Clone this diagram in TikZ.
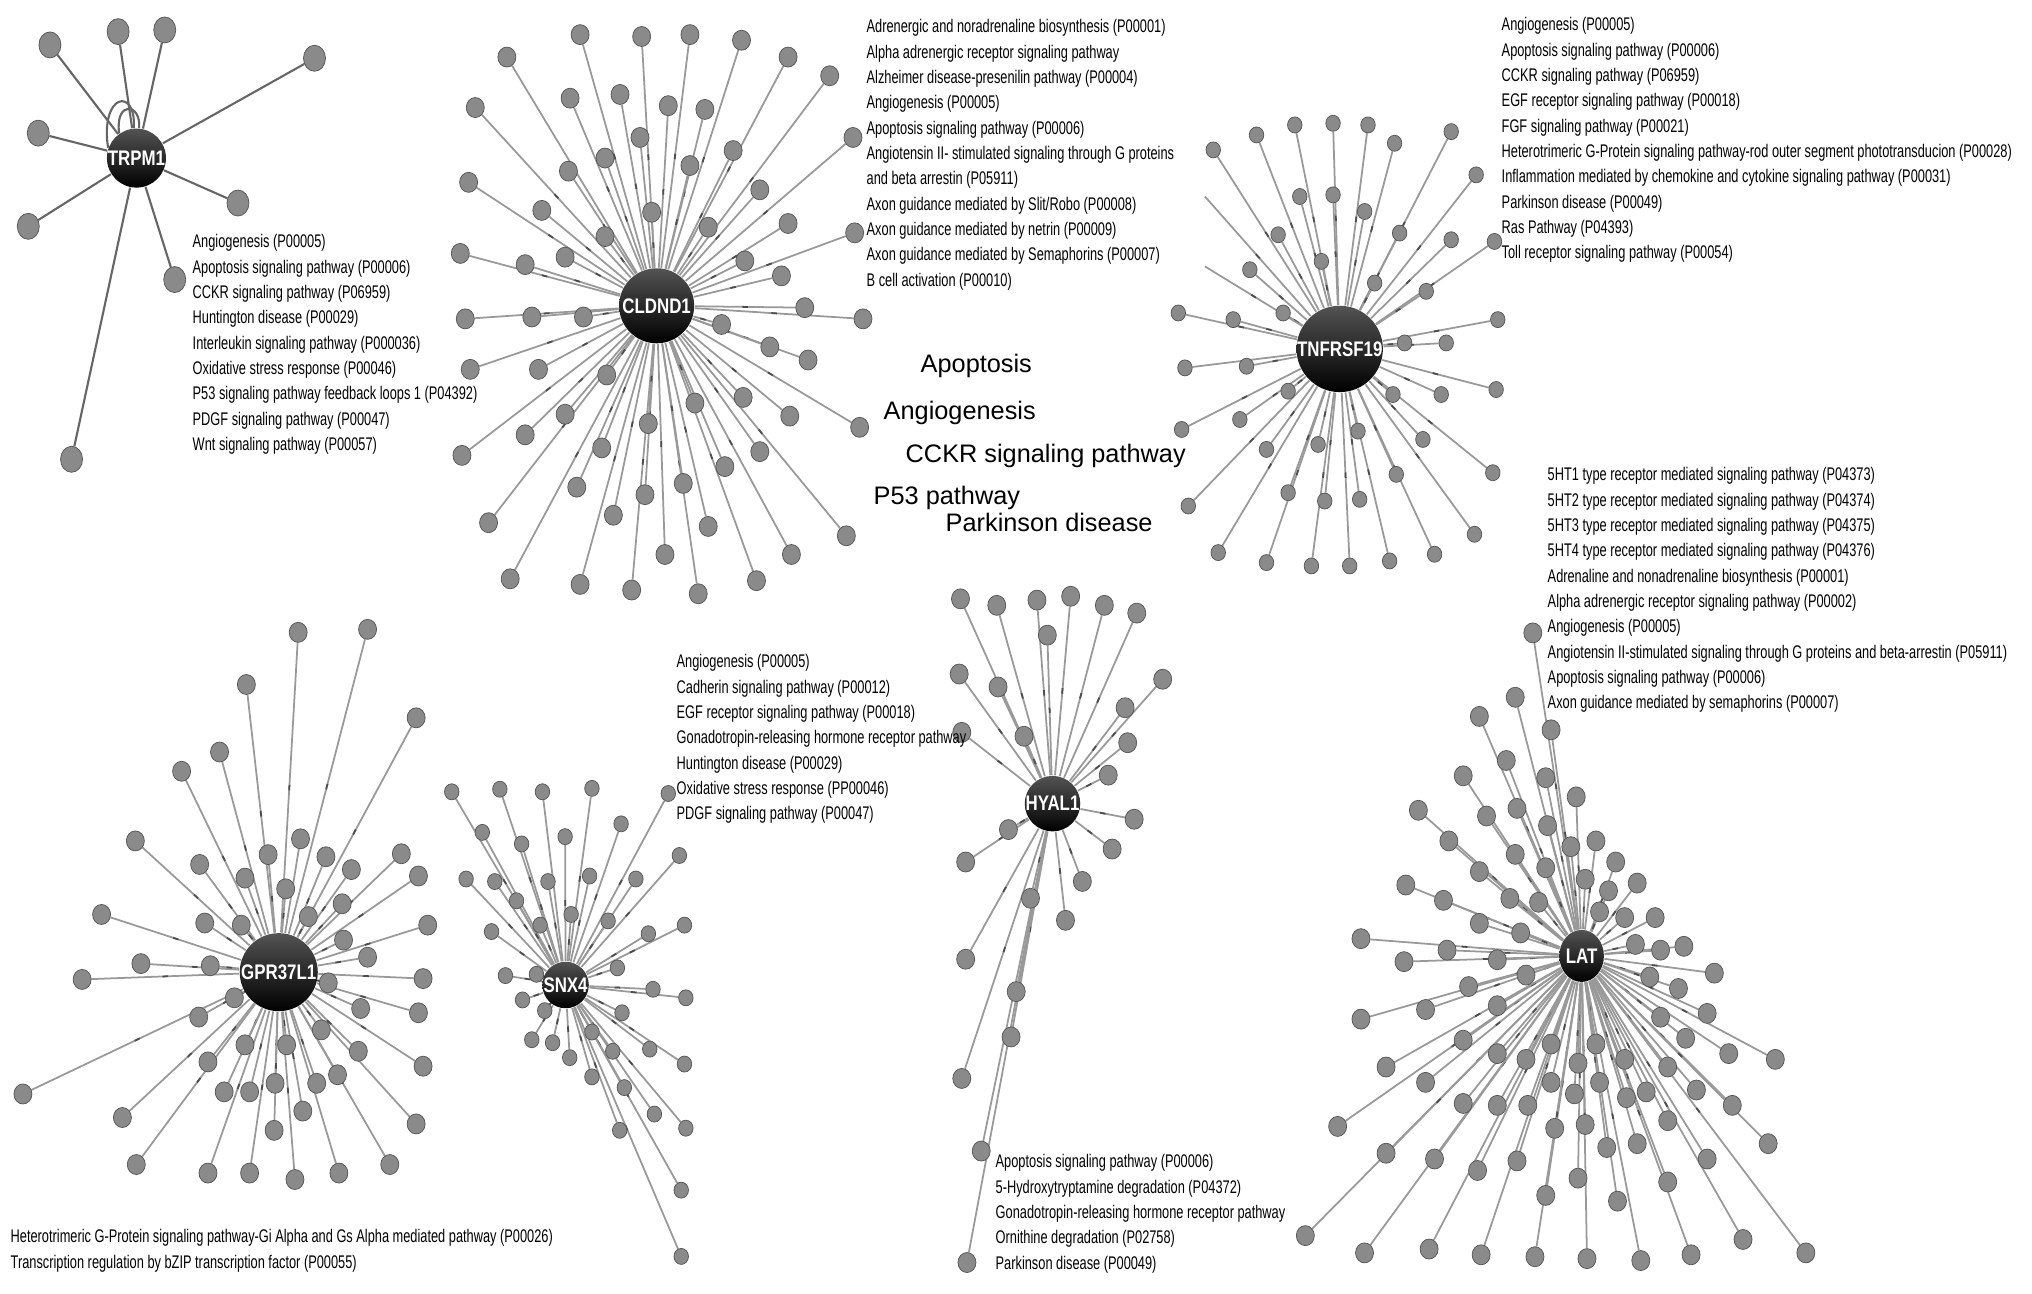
\documentclass[tikz,border=0pt]{standalone}
\usepackage{fontspec}
\setmainfont{Liberation Sans}
\newfontfamily\narrowfont[FakeStretch=0.70]{Liberation Sans}
\newfontfamily\hubfont[FakeStretch=0.80]{Liberation Sans}
\usetikzlibrary{shapes.geometric,decorations.markings}
\pgfdeclarelayer{back}
\pgfdeclarelayer{bg}
\pgfsetlayers{back,bg,main}
\tikzset{
  hub/.style={circle, inner sep=0pt, top color=gray!65!black, bottom color=black, draw=none,
    text=white, font=\hubfont\bfseries\fontsize{6}{7}\selectfont},
  leafbase/.style={ellipse, fill=gray!92, draw=gray!65!black, line width=0.2pt, inner sep=0pt},
  leafbig/.style={leafbase, minimum width=0.22cm, minimum height=0.26cm},
  leafmid/.style={leafbase, minimum width=0.18cm, minimum height=0.20cm},
  leafsmall/.style={leafbase, minimum width=0.145cm, minimum height=0.16cm},
  edge/.style={draw=gray!80, line width=0.5pt, postaction={decorate, decoration={markings,
      mark=at position 0.5 with {\draw[gray!60!black, line width=0.5pt] (-0.8pt,0) -- (0.8pt,0);}}}},
  edgedark/.style={draw=gray!80!black, line width=0.6pt},
  pathtext/.style={anchor=north west, inner sep=0pt, align=left, font=\narrowfont\fontsize{5.2}{7.2}\selectfont},
  biglabel/.style={anchor=base west, inner sep=0pt, font=\fontsize{7.2}{8.6}\selectfont}
}
\newcommand\drawnet[5]{%
  \foreach \xx/\yy [count=\ii] in {#5} {
    \node[#3] (#2\ii) at (\xx,\yy) {};
  }
  \begin{pgfonlayer}{bg}
  \foreach \xx/\yy [count=\ii] in {#5} {
    \draw[#4] (#1) -- (#2\ii);
  }
  \end{pgfonlayer}}
\begin{document}
\begin{tikzpicture}[x=0.01cm,y=-0.01cm]
\useasboundingbox (0,0) rectangle (2032,1293);
\begin{pgfonlayer}{back}
  \fill[white] (0,0) rectangle (2032,1293);
\end{pgfonlayer}

% ---------------- TRPM1 ----------------
\begin{scope}[x=0.003333cm,y=-0.003333cm]
  \node[hub, minimum size=0.59cm] (trpm) at (410,475) {TRPM1};
  \drawnet{trpm}{t}{leafbig}{edgedark}{150/135, 355/95, 495/90, 945/175, 115/400, 85/680, 715/610, 525/840, 215/1380}
  \begin{pgfonlayer}{bg}
    \draw[edgedark] (trpm.95) .. controls (410,260) and (300,280) .. (trpm.160);
    \draw[edgedark] (trpm.85) .. controls (425,310) and (345,300) .. (trpm.125);
  \end{pgfonlayer}
\end{scope}

% ---------------- CLDND1 ----------------
\begin{scope}[shift={(432,29)},x=0.003333cm,y=-0.003733cm]
  \node[hub, minimum size=0.75cm] (cldn) at (675,740) {CLDND1};
  \drawnet{cldn}{c}{leafmid}{edge}{445/15, 630/20, 775/15, 930/30, 1070/75, 1195/125, 1265/290, 1270/545, 1295/775, 1285/1065, 1245/1355, 1080/1405, 975/1475, 800/1510, 600/1500, 445/1485, 235/1470, 170/1320, 90/1140, 115/910, 100/775, 85/600, 110/410, 130/210, 225/75,
  415/185, 565/175, 710/205, 820/215, 905/325, 985/430, 1070/520, 1050/660, 1120/745, 1130/885, 1075/1035, 1015/850, 935/985, 985/1130, 880/1170, 830/1330, 700/1405, 755/1215, 640/1245, 545/1300, 435/1225, 510/1120, 400/1030, 280/1085, 320/910, 300/770, 280/630, 330/485, 410/380, 520/345, 625/290, 775/365, 660/490, 830/530, 940/620, 870/790, 790/1000, 650/1055, 525/925, 455/770, 400/610, 520/555}
\end{scope}

% ---------------- TNFRSF19 ----------------
\begin{scope}[shift={(1160,90)},x=0.003333cm,y=-0.003333cm]
  \node[hub, minimum size=0.78cm] (tnf) at (540,778) {TNFRSF19};
  \drawnet{tnf}{n}{leafsmall}{edge}{405/105, 520/100, 625/105, 705/160, 875/125, 950/255, 1005/455, 1015/690, 1010/900, 1000/1150, 945/1335, 825/1395, 690/1415, 570/1430, 455/1430, 320/1420, 175/1390, 85/1250, 65/1020, 75/835, 55/670, 160/180, 290/135,
  420/320, 520/315, 615/365, 720/430, 875/450, 800/605, 645/580, 485/515, 355/435, 270/540, 370/670, 220/690, 260/830, 385/905, 240/990, 320/1080, 385/1210, 495/1235, 475/1065, 600/1230, 595/1025, 710/1155, 790/1050, 845/915, 700/915, 735/760, 860/760}
  \coordinate (nd1) at (135,320);
  \coordinate (nd2) at (135,530);
  \begin{pgfonlayer}{bg}
    \draw[edge] (tnf) -- (nd1);
    \draw[edge] (tnf) -- (nd2);
  \end{pgfonlayer}
\end{scope}

% ---------------- LAT ----------------
\begin{scope}[shift={(1291,680)},x=0.00359cm,y=-0.003827cm]
  \node[hub, ellipse, minimum width=0.38cm, minimum height=0.52cm] (lat) at (810,720) {LAT};
  \drawnet{lat}{l}{leafmid}{edge}{674/-123, 625/45, 525/95, 725/130, 600/210, 480/250, 710/255, 795/305, 355/340, 440/420, 545/355, 630/335, 715/380, 850/420, 780/435, 625/455, 525/500, 710/490, 905/475, 965/530, 820/520, 885/550, 320/535, 425/575, 610/570, 690/580, 860/605, 930/620, 1015/620, 525/635, 640/660, 195/675, 435/705, 575/730, 315/735, 960/690, 1030/705, 1095/695, 1180/765, 495/800, 655/770, 1000/775, 1080/805, 195/885, 375/860, 575/850, 1160/870, 1030/880, 1100/935, 480/940, 265/1010, 375/1050, 575/975, 655/990, 725/950, 800/1000, 850/950, 930/990, 1050/1010, 1220/975, 1350/990, 1130/1070, 990/1075, 935/1090, 860/1050, 790/1080, 725/1050, 660/1110, 575/1110, 480/1105, 1230/1110, 1330/1210, 1160/1250, 1050/1150, 965/1210, 880/1220, 820/1160, 735/1170, 630/1255, 520/1280, 400/1250, 265/1235, 130/1165, 800/1300, 710/1345, 910/1360, 1050/1310, 40/1450, 205/1495, 385/1485, 530/1500, 680/1505, 825/1510, 975/1515, 1115/1500, 1260/1460, 1435/1495}
\end{scope}

% ---------------- GPR37L1, SNX4 ----------------
\begin{scope}[shift={(-2.5,596)},x=0.00463cm,y=-0.00427cm]
  \node[hub, minimum size=0.78cm] (gpr) at (608,880) {GPR37L1};
  \drawnet{gpr}{g}{leafmid}{edge}{650/85, 800/78, 538/207, 905/285, 480/365, 398/410, 298/573, 437/628, 585/605, 655/568, 710/610, 765/640, 873/603, 910/655, 535/660, 623/685, 745/720, 225/745, 448/765, 527/770, 672/750, 930/770, 748/805, 310/860, 460/865, 800/845, 183/897, 920/895, 715/905, 512/940, 435/985, 785/965, 910/975, 455/1090, 535/1050, 625/1050, 700/1015, 780/1065, 920/1100, 55/1165, 490/1160, 545/1160, 600/1140, 690/1140, 735/1120, 660/1205, 270/1220, 598/1250, 905/1235, 300/1330, 455/1350, 545/1350, 643/1365, 738/1350, 848/1330}
  \node[hub, minimum size=0.36cm] (snx) at (1228,910) {SNX4};
  \drawnet{snx}{s}{leafsmall}{edge}{982/458, 1086/452, 1178/458, 1285/450, 1450/462, 1048/553, 1133/580, 1227/563, 1348/533, 1474/607, 1013/662, 1075/668, 1190/668, 1280/655, 1380/662, 1122/713, 1240/745, 1320/760, 1068/785, 1173/770, 1407/790, 1485/770, 1098/888, 1165/885, 1340/870, 1417/920, 1488/940, 1135/945, 1183/970, 1155/1038, 1200/1045, 1237/1080, 1285/1020, 1350/975, 1330/1065, 1410/1060, 1485/1095, 1285/1125, 1355/1150, 1420/1212, 1488/1245, 1345/1250, 1478/1390, 1478/1545}
\end{scope}

% ---------------- HYAL1 ----------------
\begin{scope}[x=0.01296cm,y=-0.01296cm]
  \node[hub, minimum size=0.47cm] (hyal) at (812,620) {HYAL1};
  \drawnet{hyal}{h}{leafmid}{edge}{741/462, 769/467, 800/463, 826/460, 852/467, 877/473, 740/520, 897/524, 808/490, 770/530, 868/546, 790/568, 742/565, 870/573, 855/598, 875/632, 745/665, 778/640, 858/655, 795/693, 822/710, 745/740, 784/765, 780/800, 742/832, 757/888, 746/974, 835/680}
\end{scope}

% ---------------- pathway lists ----------------
\node[pathtext] (txtT) at (192,234) {Angiogenesis (P00005)\\Apoptosis signaling pathway (P00006)\\CCKR signaling pathway (P06959)\\Huntington disease (P00029)\\Interleukin signaling pathway (P000036)\\Oxidative stress response (P00046)\\P53 signaling pathway feedback loops 1 (P04392)\\PDGF signaling pathway (P00047)\\Wnt signaling pathway (P00057)};
\node[pathtext] (txtC) at (866,19) {Adrenergic and noradrenaline biosynthesis (P00001)\\Alpha adrenergic receptor signaling pathway\\Alzheimer disease-presenilin pathway (P00004)\\Angiogenesis (P00005)\\Apoptosis signaling pathway (P00006)\\Angiotensin II- stimulated signaling through G proteins\\and beta arrestin (P05911)\\Axon guidance mediated by Slit/Robo (P00008)\\Axon guidance mediated by netrin (P00009)\\Axon guidance mediated by Semaphorins (P00007)\\B cell activation (P00010)};
\node[pathtext] (txtN) at (1501,17) {Angiogenesis (P00005)\\Apoptosis signaling pathway (P00006)\\CCKR signaling pathway (P06959)\\EGF receptor signaling pathway (P00018)\\FGF signaling pathway (P00021)\\Heterotrimeric G-Protein signaling pathway-rod outer segment phototransducion (P00028)\\Inflammation mediated by chemokine and cytokine signaling pathway (P00031)\\Parkinson disease (P00049)\\Ras Pathway (P04393)\\Toll receptor signaling pathway (P00054)};
\node[pathtext] (txtL) at (1547,467) {5HT1 type receptor mediated signaling pathway (P04373)\\5HT2 type receptor mediated signaling pathway (P04374)\\5HT3 type receptor mediated signaling pathway (P04375)\\5HT4 type receptor mediated signaling pathway (P04376)\\Adrenaline and nonadrenaline biosynthesis (P00001)\\Alpha adrenergic receptor signaling pathway (P00002)\\Angiogenesis (P00005)\\Angiotensin II-stimulated signaling through G proteins and beta-arrestin (P05911)\\Apoptosis signaling pathway (P00006)\\Axon guidance mediated by semaphorins (P00007)};
\node[pathtext] (txtS) at (676,654) {Angiogenesis (P00005)\\Cadherin signaling pathway (P00012)\\EGF receptor signaling pathway (P00018)\\Gonadotropin-releasing hormone receptor pathway\\Huntington disease (P00029)\\Oxidative stress response (PP00046)\\PDGF signaling pathway (P00047)};
\node[pathtext] (txtH) at (995,1154) {Apoptosis signaling pathway (P00006)\\5-Hydroxytryptamine degradation (P04372)\\Gonadotropin-releasing hormone receptor pathway\\Ornithine degradation (P02758)\\Parkinson disease (P00049)};
\node[pathtext] (txtG) at (10,1229) {Heterotrimeric G-Protein signaling pathway-Gi Alpha and Gs Alpha mediated pathway (P00026)\\Transcription regulation by bZIP transcription factor (P00055)};

% ---------------- central labels ----------------
\node[biglabel] (cApo) at (920,372) {Apoptosis};
\node[biglabel] (cAng) at (883,419) {Angiogenesis};
\node[biglabel] (cCck) at (905,462) {CCKR signaling pathway};
\node[biglabel] (cP53) at (873,504) {P53 pathway};
\node[biglabel] (cPar) at (945,531) {Parkinson disease};
\end{tikzpicture}
\end{document}
